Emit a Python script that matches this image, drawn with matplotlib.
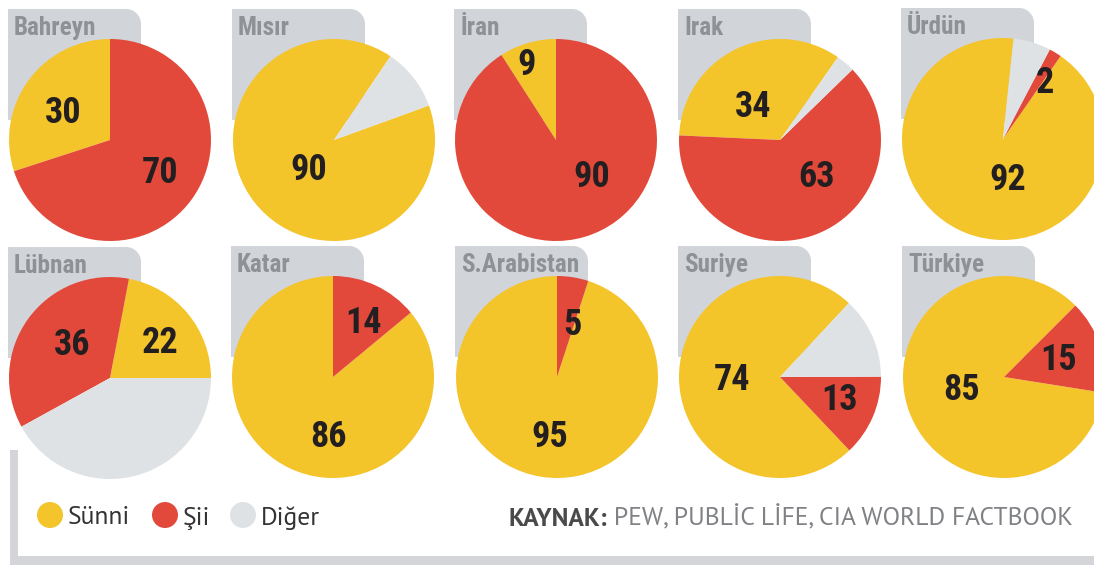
import matplotlib
matplotlib.use("Agg")
import matplotlib.pyplot as plt
from matplotlib.patches import Rectangle, Circle, Wedge
from matplotlib import font_manager

# ---------------- data ----------------
countries = ["Bahreyn", "Mısır", "İran", "Irak", "Ürdün",
             "Lübnan", "Katar", "S.Arabistan", "Suriye", "Türkiye"]
sunni = [30, 90, 9, 34, 92, 22, 86, 95, 74, 85]
shia = [70, 0, 90, 63, 2, 36, 14, 5, 13, 15]
other = [0, 10, 0, 3, 6, 42, 0, 0, 13, 0]
legend_labels = ["Sünni", "Şii", "Diğer"]
source_bold = "KAYNAK:"
source_rest = "PEW, PUBLİC LİFE, CIA WORLD FACTBOOK"

# ---------------- style / layout ----------------
W, H = 1094, 565
YELLOW = "#F4C42B"
RED = "#E2493B"
GREY = "#DFE2E5"
TAB = "#D1D4D8"
TABTXT = "#8E9196"
FRAME = "#D3D5D8"
colors = [YELLOW, RED, GREY]

centers = [(110, 140), (334, 140), (556, 140), (780, 140), (1003, 139),
           (110, 378), (333, 377), (557, 377), (780, 377), (1004, 377)]
RADIUS = 101
startangles = [90, 56, 90, 55, 84, 0, 90, 90, 47, 45]
# label positions (pixel coords) : (series index, x, y)
label_pos = [
    [(0, 63, 113), (1, 160, 173)],
    [(0, 309, 170)],
    [(0, 527, 65), (1, 592, 177)],
    [(0, 753, 107), (1, 817, 177)],
    [(1, 1045, 83), (0, 1008, 180)],
    [(1, 72, 345), (0, 160, 343)],
    [(1, 363, 323), (0, 328, 437)],
    [(1, 572, 325), (0, 550, 437)],
    [(0, 732, 380), (1, 840, 400)],
    [(1, 1059, 360), (0, 962, 390)],
]

names = {f.name for f in font_manager.fontManager.ttflist}


def pick(cands, default="DejaVu Sans"):
    for c in cands:
        if c in names:
            return c
    return default


NARROW = pick(["Roboto Condensed", "Archivo Narrow", "Asap Condensed", "Liberation Sans Narrow"])
LEG = pick(["PT Sans", "Lato"])

fig = plt.figure(figsize=(W / 100, H / 100), dpi=100)
ax = fig.add_axes([0, 0, 1, 1])
ax.set_xlim(0, W)
ax.set_ylim(0, H)
ax.set_aspect("equal")
ax.axis("off")
renderer = fig.canvas.get_renderer()


def Y(py):
    return H - py


def fitted_size(text, target, **kw):
    t = ax.text(0, 0, text, fontsize=20, **kw)
    w = t.get_window_extent(renderer).width
    t.remove()
    return 20 * target / w if w > 0 else 20


series = [sunni, shia, other]
name_fs = fitted_size("Bahreyn", 82, family=NARROW, fontweight="bold")

for i, name in enumerate(countries):
    cx, cy = centers[i]
    # grey tab with rounded top-right corner
    x0 = cx - RADIUS - 1
    x1 = x0 + 133
    top = cy - 131
    bot = cy - 20
    r = 15
    ax.add_patch(Rectangle((x0, Y(bot)), x1 - x0 - r, bot - top, fc=TAB, ec="none", zorder=1))
    ax.add_patch(Rectangle((x1 - r, Y(bot)), r, bot - top - r, fc=TAB, ec="none", zorder=1))
    ax.add_patch(Wedge((x1 - r, Y(top + r)), r, 0, 90, fc=TAB, ec="none", zorder=1))
    ax.text(x0 + 6, Y(top + 19), name, family=NARROW, fontweight="bold", fontsize=name_fs,
            color=TABTXT, ha="left", va="center", zorder=2)

    vals = [sunni[i], shia[i], other[i]]
    wedges, _ = ax.pie(vals, colors=colors, startangle=startangles[i], counterclock=True,
                       center=(cx, Y(cy)), radius=RADIUS, frame=True,
                       wedgeprops=dict(linewidth=0))
    for w in wedges:
        w.set_zorder(3)
    for (s, lx, ly) in label_pos[i]:
        ax.text(lx, Y(ly), str(series[s][i]), family=NARROW, fontweight="bold",
                fontsize=26, color="#231F20", ha="center", va="center", zorder=4)

# frame lines
ax.add_patch(Rectangle((10, Y(556)), 8, 556 - 450, fc=FRAME, ec="none", zorder=1))
ax.add_patch(Rectangle((10, 0), W, H - 556, fc=FRAME, ec="none", zorder=1))

# legend
leg_x = [50, 165, 243]
leg_fs = fitted_size("Sünni", 62, family=LEG)
for k, lab in enumerate(legend_labels):
    ax.add_patch(Circle((leg_x[k], Y(515)), 13, fc=colors[k], ec="none", zorder=3))
    ax.text(leg_x[k] + 18, Y(518), lab, family=LEG, fontsize=leg_fs, color="#333333",
            ha="left", va="center", zorder=4)

t1 = ax.text(508, Y(519), source_bold, family=LEG, fontweight="bold", fontsize=16,
             color="#4A4A4A", ha="left", va="center", zorder=4)
t2 = ax.annotate(" " + source_rest, xy=(1, 0), xycoords=t1, ha="left", va="bottom",
                 family=LEG, fontsize=16, color="#7F8185", zorder=4)
fig.canvas.draw()
w_all = t1.get_window_extent(renderer).width + t2.get_window_extent(renderer).width
if w_all > 0:
    scale = 567 / w_all
    t1.set_fontsize(16 * scale)
    t2.set_fontsize(16 * scale)

fig.savefig("out.png", dpi=100, facecolor="white")
